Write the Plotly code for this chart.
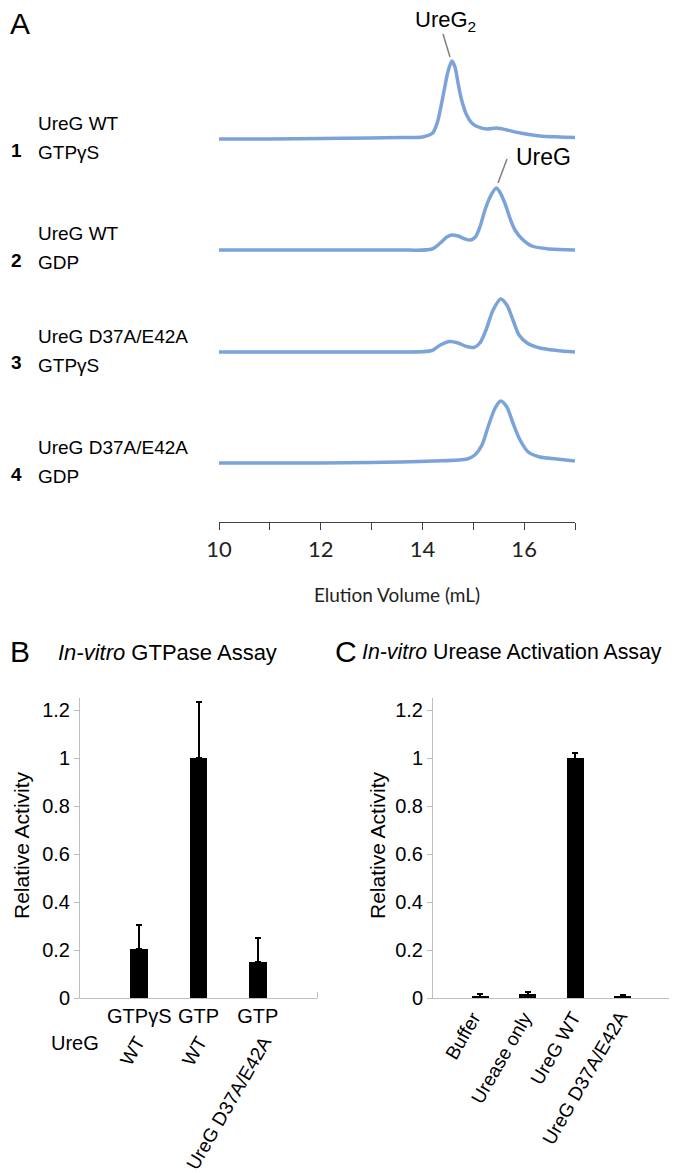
import plotly.graph_objects as go

# The page body has an 8 px margin, so the figure is 8 px smaller on each axis
# and reference pixel coordinates are shifted by that margin.
OFF = 8
W, H = 677 - OFF, 1173 - OFF
def px(x): return (x - OFF) / W
def py(y): return 1 - (y - OFF) / H

# ---------------- Panel A data (elution volume, mL ; signal, a.u.) ----------------
vol_1 = [10.0, 11.0, 12.0, 13.0, 13.6, 14.0, 14.2, 14.29, 14.35, 14.44, 14.5, 14.58, 14.64,
         14.7, 14.77, 14.87, 14.97, 15.1, 15.26, 15.46, 15.66, 15.92, 16.31, 16.7, 17.0]
sig_1 = [0, 0, 0.5, 1, 1.5, 2, 6, 16, 29, 52, 67, 78, 72,
         56, 39, 24, 16, 12, 10, 11, 9, 6, 3, 2, 1.5]

vol_2 = [10.0, 11.0, 12.0, 13.0, 13.56, 14.19, 14.35, 14.48, 14.58, 14.7, 14.84, 14.94, 15.04,
         15.13, 15.23, 15.33, 15.45, 15.52, 15.62, 15.72, 15.82, 15.96, 16.15, 16.5, 17.0]
sig_2 = [0, 0, 0, 0, 0, 1, 7, 13, 15, 14, 11, 10, 13,
         23, 40, 53, 62, 58, 47, 32, 20, 11, 4, 1, 0]

vol_3 = [10.0, 11.0, 12.0, 13.0, 13.56, 14.19, 14.35, 14.54, 14.7, 14.87, 15.01, 15.13, 15.25,
         15.39, 15.54, 15.66, 15.78, 15.9, 16.06, 16.31, 16.64, 17.0]
sig_3 = [0, 0, 0, 0, 0, 1.5, 7, 10.5, 9, 5.5, 4.5, 9, 22,
         42, 53, 47, 32, 17, 9, 4, 1.5, 0]

vol_4 = [10.0, 11.0, 12.0, 13.0, 13.56, 14.21, 14.88, 15.03, 15.17, 15.29, 15.43, 15.54, 15.66,
         15.78, 15.92, 16.08, 16.31, 16.64, 17.0]
sig_4 = [0, 0, 0, 0.5, 1, 2, 4, 8, 18, 36, 55, 62, 56,
         40, 23, 11, 6, 4, 2]

row_numbers = ["1", "2", "3", "4"]
row_protein = ["UreG WT", "UreG WT", "UreG D37A/E42A", "UreG D37A/E42A"]
row_ligand = ["GTPγS", "GDP", "GTPγS", "GDP"]

elution_ticks = [10, 11, 12, 13, 14, 15, 16, 17]
elution_ticklabels = ["10", "", "12", "", "14", "", "16", ""]

# ---------------- Panel B data ----------------
gtpase_nucleotide = ["GTPγS", "GTP", "GTP"]
gtpase_protein = ["WT", "WT", "UreG D37A/E42A"]
gtpase_activity = [0.205, 1.0, 0.148]
gtpase_error = [0.10, 0.233, 0.104]

# ---------------- Panel C data ----------------
urease_labels = ["Buffer", "Urease only", "UreG WT", "UreG D37A/E42A"]
urease_activity = [0.005, 0.018, 1.0, 0.008]
urease_error = [0.010, 0.007, 0.020, 0.005]

activity_ticks = [0, 0.2, 0.4, 0.6, 0.8, 1.0, 1.2]
activity_ticklabels = ["0", "0.2", "0.4", "0.6", "0.8", "1", "1.2"]

# ---------------- styles ----------------
BLUE = "#7BA3DA"
ARIAL = "Liberation Sans, Arial, sans-serif"
LATO = "Lato, Carlito, Calibri, sans-serif"
GREY_AX = "#BFBFBF"

fig = go.Figure()

# Panel A traces
baselines = [139, 250, 352, 463]
vols = [vol_1, vol_2, vol_3, vol_4]
sigs = [sig_1, sig_2, sig_3, sig_4]
for i in range(4):
    yname = "y" if i == 0 else f"y{i+1}"
    fig.add_trace(go.Scatter(x=vols[i], y=sigs[i], mode="lines", xaxis="x", yaxis=yname,
                             line=dict(color=BLUE, width=3.5, shape="spline", smoothing=0.8),
                             hoverinfo="skip", showlegend=False))

# Panel B bars
fig.add_trace(go.Bar(x=list(range(len(gtpase_activity))), y=gtpase_activity, xaxis="x2", yaxis="y5",
                     width=0.30, marker=dict(color="black", line=dict(width=0)),
                     error_y=dict(type="data", array=gtpase_error, arrayminus=[0] * 3, symmetric=False,
                                  color="black", thickness=2, width=3),
                     showlegend=False))
# Panel C bars
fig.add_trace(go.Bar(x=list(range(len(urease_activity))), y=urease_activity, xaxis="x3", yaxis="y6",
                     width=0.36, marker=dict(color="black", line=dict(width=0)),
                     error_y=dict(type="data", array=urease_error, arrayminus=urease_error, symmetric=False,
                                  color="black", thickness=2, width=3),
                     showlegend=False))

layout = dict(
    width=W, height=H, margin=dict(l=0, r=0, t=0, b=0, autoexpand=False),
    paper_bgcolor="white", plot_bgcolor="rgba(0,0,0,0)",
    showlegend=False, bargap=0,
)

# Panel A axes
layout["xaxis"] = dict(domain=[px(219), px(575)], range=[10, 17], anchor="free", position=py(522),
                       automargin=False,
                       tickvals=elution_ticks, ticktext=elution_ticklabels, ticks="outside", ticklen=7,
                       tickcolor="#404040", tickwidth=1.2, showline=True, linecolor="#404040", linewidth=1.2,
                       showgrid=False, zeroline=False,
                       tickfont=dict(family=LATO, size=22, color="#222"),
                       title=dict(text="Elution Volume (mL)", font=dict(family=LATO, size=19, color="#222"),
                                  standoff=28))
for i, b in enumerate(baselines):
    key = "yaxis" if i == 0 else f"yaxis{i+1}"
    layout[key] = dict(domain=[py(b + 10), py(b - 85)], range=[-10, 85], anchor="x",
                       automargin=False, visible=False, showgrid=False, zeroline=False)

# Panel B axes
bar_y_domain = [py(998), py(698)]
layout["xaxis2"] = dict(domain=[px(80), px(317)], range=[-1, 3], anchor="y5", automargin=False,
                        tickvals=[0, 1, 2], ticktext=gtpase_nucleotide, ticks="",
                        tickfont=dict(family=ARIAL, size=20, color="black"),
                        showline=True, linecolor=GREY_AX, linewidth=1, showgrid=False, zeroline=False,
                        minor=dict(tickvals=[3], ticks="inside", ticklen=6, tickcolor=GREY_AX))
layout["yaxis5"] = dict(domain=bar_y_domain, range=[0, 1.25], anchor="x2", automargin=False,
                        tickvals=activity_ticks, ticktext=activity_ticklabels,
                        ticks="outside", ticklen=5, tickcolor=GREY_AX,
                        tickfont=dict(family=ARIAL, size=20, color="black"),
                        showline=True, linecolor=GREY_AX, linewidth=1, showgrid=False, zeroline=False)
# Panel C axes
layout["xaxis3"] = dict(domain=[px(433), px(670)], range=[-1, 4], anchor="y6", automargin=False,
                        tickvals=[0, 1, 2, 3], ticktext=[""] * 4, ticks="",
                        showline=True, linecolor=GREY_AX, linewidth=1, showgrid=False, zeroline=False,
                        minor=dict(tickvals=[4], ticks="inside", ticklen=6, tickcolor=GREY_AX))
layout["yaxis6"] = dict(domain=bar_y_domain, range=[0, 1.25], anchor="x3", automargin=False,
                        tickvals=activity_ticks, ticktext=activity_ticklabels,
                        ticks="outside", ticklen=5, tickcolor=GREY_AX,
                        tickfont=dict(family=ARIAL, size=20, color="black"),
                        showline=True, linecolor=GREY_AX, linewidth=1, showgrid=False, zeroline=False)

ann = []
def text(x, y, s, size, family=ARIAL, xanchor="left", yanchor="middle", **kw):
    d = dict(x=x, y=y, xref="paper", yref="paper", text=s, showarrow=False,
             xanchor=xanchor, yanchor=yanchor, font=dict(family=family, size=size, color="black"))
    d.update(kw)
    ann.append(d)

# Panel letters & titles
text(px(8), py(24), "A", 30)
text(px(8), py(651), "B", 30)
text(px(333), py(651), "C", 30)
text(px(56), py(652), "<i>In-vitro</i> GTPase Assay", 22)
text(px(360), py(652), "<i>In-vitro</i> Urease Activation Assay", 21.3)

# y-axis titles of B and C
text(px(22), py(845), "Relative Activity", 21, xanchor="center", textangle=-90)
text(px(378), py(845), "Relative Activity", 21, xanchor="center", textangle=-90)

# Panel A row labels
for i, b in enumerate(baselines):
    text(px(9), py(b + 11), f"<b>{row_numbers[i]}</b>", 19)
    text(px(36), py(b - 16), row_protein[i], 19)
    text(px(36), py(b + 13), row_ligand[i], 19)

# Peak labels with leader lines
text(px(413), py(21), "UreG<sub>2</sub>", 22)
text(px(514), py(157), "UreG", 23)
shapes = [
    dict(type="line", xref="paper", yref="paper", x0=px(443), y0=py(34), x1=px(450), y1=py(57),
         line=dict(color="#808080", width=1.5)),
    dict(type="line", xref="paper", yref="paper", x0=px(507), y0=py(159), x1=px(498), y1=py(183),
         line=dict(color="#808080", width=1.5)),
]

# Panel B second-row labels
text(px(75), py(1043), "UreG", 20, xanchor="center")
b_shift = [13, 16, 21]
for i, s in enumerate(gtpase_protein):
    ann.append(dict(x=i, xref="x2", y=py(1030), yref="paper", text=s, showarrow=False,
                    textangle=-60, xanchor="right", yanchor="top", xshift=b_shift[i],
                    font=dict(family=ARIAL, size=19, color="black")))
# Panel C rotated labels
c_shift = [7, 11, 12, 12]
for i, s in enumerate(urease_labels):
    ann.append(dict(x=i, xref="x3", y=py(1005), yref="paper", text=s, showarrow=False,
                    textangle=-60, xanchor="right", yanchor="top", xshift=c_shift[i],
                    font=dict(family=ARIAL, size=19, color="black")))

layout["annotations"] = ann
layout["shapes"] = shapes
fig.update_layout(**layout)
fig.write_html("out.html")
